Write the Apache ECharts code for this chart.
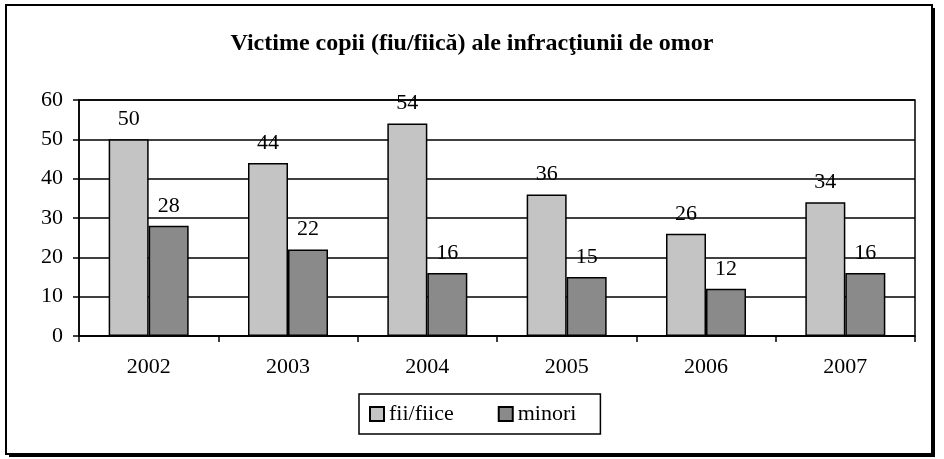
<!DOCTYPE html>
<html>
<head>
<meta charset="utf-8">
<script src="https://cdn.jsdelivr.net/npm/echarts@6/dist/echarts.min.js"></script>
<style>
html,body{margin:0;padding:0;background:#fff;}
#c{width:944px;height:459px;}
</style>
</head>
<body>
<div id="c"></div>
<script>
var titleText = 'Victime copii (fiu/fiică) ale infracţiunii de omor';
var categories = ['2002', '2003', '2004', '2005', '2006', '2007'];
var seriesNames = ['fii/fiice', 'minori'];
var fiiFiice = [50, 44, 54, 36, 26, 34];
var minori = [28, 22, 16, 15, 12, 16];
var yTicks = [0, 10, 20, 30, 40, 50, 60];

var FONT = '"Liberation Serif", "Times New Roman", serif';
var chart = echarts.init(document.getElementById('c'), null, {renderer: 'canvas'});

function barSeries(name, data, color) {
  return {
    name: name,
    type: 'bar',
    data: data,
    barWidth: 40,
    barGap: '0%',
    itemStyle: {color: color, borderColor: '#000', borderWidth: 1.5},
    label: {
      show: true, position: 'top', distance: 9,
      color: '#000', fontFamily: FONT, fontSize: 22
    }
  };
}

chart.setOption({
  backgroundColor: '#fff',
  animation: false,
  title: {
    text: titleText, left: 'center', top: 27,
    textStyle: {fontFamily: FONT, fontSize: 24, fontWeight: 'bold', color: '#000'}
  },
  graphic: [
    {type: 'rect', shape: {x: 9, y: 8, width: 926, height: 449}, style: {fill: '#000'}, z: -10},
    {type: 'rect', shape: {x: 6, y: 5, width: 926, height: 449}, style: {fill: '#fff', stroke: '#000', lineWidth: 2}, z: -9}
  ],
  legend: {
    data: seriesNames,
    left: 359, top: 394,
    padding: [9, 24, 9, 10],
    itemWidth: 14, itemHeight: 14, itemGap: 44,
    borderColor: '#000', borderWidth: 1.5,
    icon: 'rect',
    textStyle: {fontFamily: FONT, fontSize: 22, color: '#000'}
  },
  grid: {
    left: 79, right: 29, top: 100, bottom: 123,
    show: true, borderColor: '#000', borderWidth: 1.5, containLabel: false
  },
  xAxis: {
    type: 'category',
    data: categories,
    axisLine: {lineStyle: {color: '#000', width: 1.5}},
    axisTick: {show: true, alignWithLabel: false, length: 6, lineStyle: {color: '#000', width: 1.5}},
    axisLabel: {fontFamily: FONT, fontSize: 22, color: '#000', margin: 20}
  },
  yAxis: {
    type: 'value',
    min: yTicks[0], max: yTicks[yTicks.length - 1], interval: 10,
    axisLine: {show: true, lineStyle: {color: '#000', width: 1.5}},
    axisTick: {show: true, length: 6, lineStyle: {color: '#000', width: 1.5}},
    axisLabel: {fontFamily: FONT, fontSize: 22, color: '#000', margin: 16},
    splitLine: {show: true, lineStyle: {color: '#000', width: 1.5}}
  },
  series: [
    barSeries(seriesNames[0], fiiFiice, '#c4c4c4'),
    barSeries(seriesNames[1], minori, '#8a8a8a')
  ]
});
</script>
</body>
</html>
